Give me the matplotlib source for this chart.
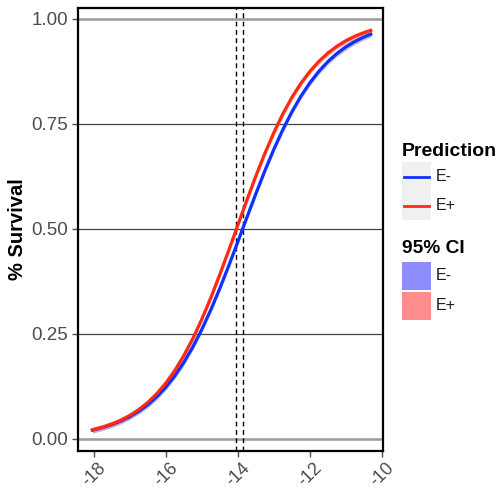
import matplotlib.pyplot as plt
from matplotlib.patches import Rectangle
from matplotlib.lines import Line2D

plt.rcParams['font.family'] = ['Liberation Sans', 'DejaVu Sans']

# valores
x_vals = [-18.04, -17.75, -17.5, -17.25, -17.0, -16.75, -16.5, -16.25, -16.0,
          -15.75, -15.5, -15.25, -15.0, -14.75, -14.5, -14.25, -14.0, -13.75,
          -13.5, -13.25, -13.0, -12.75, -12.5, -12.25, -12.0, -11.75, -11.5,
          -11.25, -11.0, -10.75, -10.5, -10.31]
surv_neg = [0.0211, 0.0274, 0.0343, 0.0427, 0.0532, 0.0660, 0.0816, 0.1007, 0.1235,
            0.1506, 0.1824, 0.2193, 0.2612, 0.3079, 0.3589, 0.4134, 0.4700, 0.5275,
            0.5842, 0.6388, 0.6900, 0.7369, 0.7790, 0.8161, 0.8481, 0.8754, 0.8985,
            0.9176, 0.9334, 0.9463, 0.9569, 0.9636]
surv_pos = [0.0215, 0.0281, 0.0355, 0.0445, 0.0559, 0.0699, 0.0871, 0.1080, 0.1333,
            0.1634, 0.1988, 0.2394, 0.2856, 0.3367, 0.3920, 0.4500, 0.5095, 0.5688,
            0.6262, 0.6800, 0.7297, 0.7742, 0.8132, 0.8467, 0.8752, 0.8990, 0.9188,
            0.9348, 0.9480, 0.9586, 0.9671, 0.9724]
ci_half = 0.007
ld50 = [-14.04, -13.87]
x_ticks = [-18, -16, -14, -12, -10]
y_ticks = [0.00, 0.25, 0.50, 0.75, 1.00]
groups = ['E-', 'E+']

col_line = ['#1030ff', '#ff2a10']
col_ci = ['#8c8cff', '#ff8c8c']

W, H = 499, 491
fig = plt.figure(figsize=(W / 100, H / 100), dpi=100)
ax = fig.add_axes([78 / W, 1 - 451 / H, 305 / W, 443 / H])


def px(x, y):
    # pixel -> coordenadas da figura
    return x / W, 1 - y / H


for yt in y_ticks:
    if yt in (0.0, 1.0):
        ax.axhline(yt, color='#9a9a9a', lw=1.8, zorder=1)
    else:
        ax.axhline(yt, color='#444444', lw=0.9, zorder=1)

for xv in ld50:
    ax.axvline(xv, color='black', lw=1.0, ls=(0, (3.5, 2.5)), zorder=2)

for i, surv in enumerate([surv_neg, surv_pos]):
    ax.fill_between(x_vals, [v - ci_half for v in surv], [v + ci_half for v in surv],
                    color=col_ci[i], alpha=0.6, lw=0, zorder=3)
    ax.plot(x_vals, surv, color=col_line[i], lw=2.3, solid_joinstyle='round', zorder=4 + i)

ax.set_xlim(-18.44, -9.97)
ax.set_ylim(-0.0286, 1.026)
ax.set_xticks(x_ticks)
ax.set_xticklabels([str(t) for t in x_ticks], rotation=45, ha='center')
ax.set_yticks(y_ticks)
ax.set_yticklabels(['%.2f' % t for t in y_ticks])
ax.tick_params(colors='#4d4d4d', labelsize=13.5, length=4, width=1, direction='out')
ax.tick_params(axis='x', pad=2, labelsize=13)
ax.tick_params(axis='y', pad=3)
for s in ax.spines.values():
    s.set_color('black')
    s.set_linewidth(1.6)
ax.set_ylabel('% Survival', fontsize=14.5, fontweight='bold')
ax.yaxis.set_label_coords(-0.167, 0.5)

# legenda "Prediction"
fig.text(*px(402, 156), 'Prediction', fontsize=14, fontweight='bold', va='baseline')
for i, g in enumerate(groups):
    y0 = 162 + 29 * i
    fig.patches.append(Rectangle(px(402, y0 + 29), 29 / W, 29 / H, transform=fig.transFigure,
                                 facecolor='#f0f0f0', edgecolor='none'))
    x1, yc = px(404, y0 + 14.5)
    x2, _ = px(429, y0 + 14.5)
    fig.lines.append(Line2D([x1, x2], [yc, yc], transform=fig.transFigure,
                            color=col_line[i], lw=2))
    fig.text(*px(436, y0 + 14.5), g, fontsize=11.5, va='center', color='#1a1a1a')

# legenda "95% CI"
fig.text(*px(402, 253), '95% CI', fontsize=13.8, fontweight='bold', va='baseline')
for i, g in enumerate(groups):
    y0 = 262 + 29.5 * i
    fig.patches.append(Rectangle(px(402, y0 + 28), 29 / W, 28 / H, transform=fig.transFigure,
                                 facecolor=col_ci[i], edgecolor='none'))
    fig.text(*px(436, y0 + 14), g, fontsize=11.5, va='center', color='#1a1a1a')

plt.savefig('out.png', dpi=100)
